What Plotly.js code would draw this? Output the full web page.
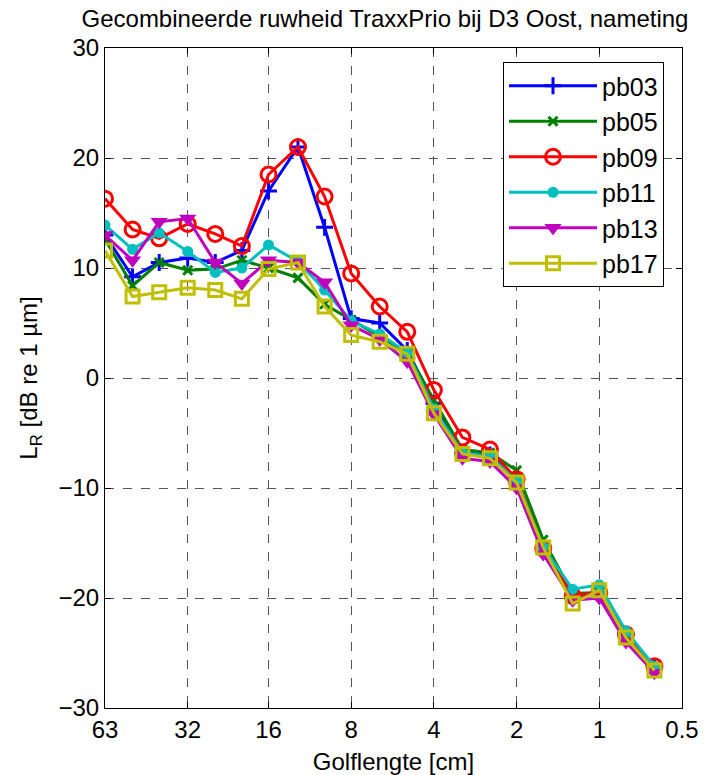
<!DOCTYPE html>
<html><head><meta charset="utf-8">
<script src="https://cdn.plot.ly/plotly-3.0.1.min.js"></script>
<style>html,body{margin:0;padding:0;background:#fff;overflow:hidden}#chart{width:717px;height:775px}</style>
</head><body><div id="chart"></div>
<script>
const wavelength = [63, 50, 40, 31.5, 25, 20, 16, 12.5, 10, 8, 6.3, 5, 4, 3.15, 2.5, 2, 1.6, 1.25, 1, 0.8, 0.63];
const tickVals = [63, 31.5, 16, 8, 4, 2, 1, 0.5];
const tickText = ['63', '32', '16', '8', '4', '2', '1', '0.5'];
const seriesNames = ['pb03', 'pb05', 'pb09', 'pb11', 'pb13', 'pb17'];
const pb03 = [13.0, 9.2, 10.5, 10.9, 10.5, 11.6, 17.0, 21.0, 13.7, 5.4, 5.0, 2.5, -2.3, -6.8, -7.0, -9.3, -15.3, -19.9, -19.5, -23.3, -26.3];
const pb05 = [12.6, 8.4, 10.5, 9.8, 9.9, 10.7, 10.0, 9.1, 6.7, 5.3, 3.8, 2.3, -2.0, -6.5, -6.8, -8.4, -14.7, -19.6, -19.5, -23.5, -26.5];
const pb09 = [16.3, 13.5, 12.7, 14.0, 13.1, 12.0, 18.5, 21.0, 16.5, 9.5, 6.5, 4.2, -1.1, -5.4, -6.5, -9.2, -15.5, -19.8, -19.5, -23.3, -26.2];
const pb11 = [13.9, 11.7, 13.2, 11.5, 9.6, 10.0, 12.1, 10.6, 8.0, 5.2, 4.0, 2.3, -2.8, -6.8, -7.1, -9.4, -15.4, -19.2, -18.8, -23.0, -26.2];
const pb13 = [13.0, 10.7, 14.2, 14.5, 10.5, 8.6, 10.7, 10.5, 8.7, 4.8, 3.5, 1.5, -3.3, -7.3, -7.6, -10.0, -16.0, -20.2, -20.0, -24.0, -26.8];
const pb17 = [11.6, 7.4, 7.8, 8.2, 8.0, 7.2, 9.9, 10.5, 6.5, 3.9, 3.3, 2.2, -3.2, -6.9, -7.3, -9.5, -15.4, -20.5, -19.3, -23.6, -26.6];
const seriesValues = [pb03, pb05, pb09, pb11, pb13, pb17];

const colors = ['#0000ff', '#008000', '#ff0000', '#00bfbf', '#bf00bf', '#bfbf00'];
const markers = [
  {symbol: 'cross-thin-open', size: 12, line: {width: 3}},
  {symbol: 'x-thin-open', size: 9, line: {width: 3}},
  {symbol: 'circle-open', size: 15, line: {width: 3}},
  {symbol: 'circle', size: 11, line: {width: 0}},
  {symbol: 'triangle-down', size: 15, line: {width: 0}},
  {symbol: 'square-open', size: 13, line: {width: 3}}
];

const traces = seriesNames.map((n, i) => ({
  x: wavelength, y: seriesValues[i], name: n, type: 'scatter', mode: 'lines+markers',
  line: {color: colors[i], width: 3},
  marker: Object.assign({color: colors[i]}, markers[i], {line: Object.assign({color: colors[i]}, markers[i].line)})
}));

const font = {family: 'Liberation Sans, Arial, sans-serif', size: 24, color: '#000'};
const layout = {
  width: 717, height: 775,
  margin: {l: 105, r: 35, t: 48, b: 67},
  paper_bgcolor: '#fff', plot_bgcolor: '#fff',
  font: font,
  showlegend: true,
  title: {text: 'Gecombineerde ruwheid TraxxPrio bij D3 Oost, nameting', font: font,
    xref: 'container', yref: 'container', x: 385/717, xanchor: 'center', y: 1 - 19/775, yanchor: 'middle'},
  xaxis: {type: 'log', range: [Math.log10(63), Math.log10(0.5)], autorange: false,
    tickmode: 'array', tickvals: tickVals, ticktext: tickText,
    showline: true, linecolor: '#000', linewidth: 1, mirror: 'ticks',
    ticks: 'inside', ticklen: 6, tickcolor: '#000',
    showgrid: true, gridcolor: '#555', griddash: 'dash', gridwidth: 1, zeroline: false,
    tickfont: font, automargin: false,
    title: {text: 'Golflengte [cm]', font: font, standoff: 15}},
  yaxis: {range: [-30, 30], autorange: false, tickmode: 'array', tickvals: [-30, -20, -10, 0, 10, 20, 30],
    showline: true, linecolor: '#000', linewidth: 1, mirror: 'ticks',
    ticks: 'inside', ticklen: 6, tickcolor: '#000',
    showgrid: true, gridcolor: '#555', griddash: 'dash', gridwidth: 1, zeroline: false,
    tickfont: font, automargin: false,
    title: {text: 'L<sub>R</sub> [dB re 1 µm]', font: font, standoff: 14}},
  legend: {x: (503 - 105) / 577, xref: 'paper', y: (708 - 62) / 660, yref: 'paper', xanchor: 'left', yanchor: 'top',
    bgcolor: '#fff', bordercolor: '#000', borderwidth: 1, font: {family: font.family, size: 25, color: '#000'},
    itemwidth: 88, tracegroupgap: 0}
};
Plotly.newPlot('chart', traces, layout, {displayModeBar: false, staticPlot: true});
</script></body></html>
